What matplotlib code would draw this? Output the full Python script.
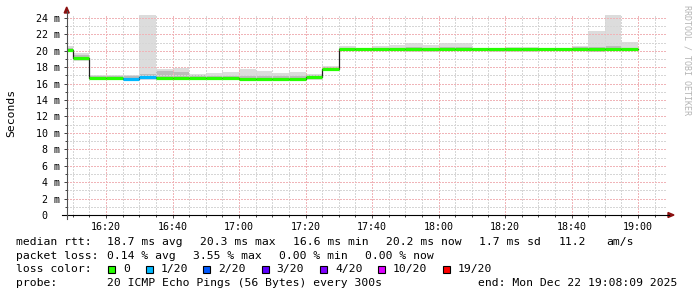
"""
SmokePing-style latency graph: median RTT per 5-minute bin with smoke
(spread of the 20 pings) and loss-coloured median line.
"""

from __future__ import annotations

import matplotlib

matplotlib.use("Agg")
import matplotlib.dates as mdates
import matplotlib.pyplot as plt
import numpy as np
import pandas as pd
from matplotlib.lines import Line2D
from matplotlib.patches import Polygon, Rectangle

# ---- data (ms), one value per 5-minute bin starting 16:05 ----
bin_start = pd.date_range("2025-12-22 16:05", "2025-12-22 18:55", freq="5min")

median_ms = [20.1, 19.1, 16.7, 16.7, 16.6, 16.8, 16.7, 16.7, 16.7, 16.7, 16.7, 16.6,
             16.6, 16.6, 16.6, 16.8, 17.8, 20.2,
             20.2, 20.2, 20.2, 20.2, 20.2, 20.2, 20.2, 20.2, 20.2, 20.2, 20.2, 20.2,
             20.2, 20.2, 20.2, 20.2, 20.2]
loss_count = [0, 0, 0, 0, 1, 1, 0, 0, 0, 0, 0, 0,
              0, 0, 0, 0, 0, 0,
              0, 0, 0, 0, 0, 0, 0, 0, 0, 0, 0, 0,
              0, 0, 0, 0, 0]
smoke_hi = [20.6, 19.7, 17.0, 17.0, 17.0, 26.0, 17.8, 17.9, 17.2, 17.3, 17.45, 17.8,
            17.55, 17.3, 17.4, 17.2, 18.1, 20.6,
            20.4, 20.6, 20.7, 20.9, 20.7, 20.9, 20.9, 20.4, 20.4, 20.5, 20.5, 20.4,
            20.4, 20.6, 22.4, 26.0, 21.1]
smoke_lo = [19.9, 18.8, 16.4, 16.5, 16.4, 16.4, 16.5, 16.5, 16.5, 16.5, 16.5, 16.5,
            16.5, 16.5, 16.4, 16.4, 17.6, 20.0,
            20.0, 20.0, 20.0, 19.9, 19.9, 20.0, 20.0, 20.0, 19.9, 19.9, 19.8, 20.0,
            20.0, 20.0, 19.8, 20.0, 20.0]
inner_hi = [20.4, 19.5, 16.9, 16.9, 16.9, 17.2, 17.5, 17.4, 17.0, 16.9, 16.9, 16.9,
            16.9, 16.9, 16.9, 17.0, 18.0, 20.4,
            20.3, 20.4, 20.4, 20.5, 20.4, 20.5, 20.5, 20.3, 20.3, 20.4, 20.4, 20.3,
            20.3, 20.5, 20.5, 20.6, 20.4]
inner_lo = [20.0, 18.9, 16.5, 16.6, 16.5, 16.6, 16.6, 16.6, 16.6, 16.6, 16.6, 16.5,
            16.5, 16.5, 16.5, 16.6, 17.7, 20.1,
            20.1, 20.1, 20.1, 20.0, 20.0, 20.1, 20.1, 20.1, 20.0, 20.0, 20.0, 20.1,
            20.1, 20.1, 19.9, 20.1, 20.1]

loss_levels = [0, 1, 2, 3, 4, 10, 19]
loss_labels = ["0", "1/20", "2/20", "3/20", "4/20", "10/20", "19/20"]
loss_colors = ["#26ff00", "#00b8ff", "#0059ff", "#5e00ff", "#7e00ff", "#dd00ff", "#ff0000"]

yticks = [0, 2, 4, 6, 8, 10, 12, 14, 16, 18, 20, 22, 24]
ytick_labels = ["0  ", "2 m", "4 m", "6 m", "8 m", "10 m", "12 m", "14 m", "16 m",
                "18 m", "20 m", "22 m", "24 m"]

view_start = pd.Timestamp("2025-12-22 16:08:09")
view_end = pd.Timestamp("2025-12-22 19:08:09")

stats_rows = [
    ("median rtt:", [(107.3, "18.7 ms avg"), (200.0, "20.3 ms max"), (293.3, "16.6 ms min"),
                     (386.0, "20.2 ms now"), (479.3, "1.7 ms sd"), (558.3, "11.2"),
                     (606.7, "am/s")]),
    ("packet loss:", [(107.3, "0.14 % avg"), (193.3, "3.55 % max"), (279.3, "0.00 % min"),
                      (365.0, "0.00 % now")]),
]
legend_box_x = [108.3, 145.7, 203.3, 261.7, 320.0, 377.7, 442.7]
probe_text = "20 ICMP Echo Pings (56 Bytes) every 300s"
end_text = "end: Mon Dec 22 19:08:09 2025"

W, H = 697, 297
MONO = "DejaVu Sans Mono"


def fx(x):
    return x / W


def fy(y):
    return 1 - y / H


fig = plt.figure(figsize=(W / 100, H / 100), dpi=100)
fig.patch.set_facecolor("white")
ax = fig.add_axes([fx(66.7), fy(215), fx(667) - fx(66.7), fy(14.7) - fy(215)])

x = mdates.date2num(bin_start)
width = 5 / 1440
lo = np.array(smoke_lo)
hi = np.array(smoke_hi)
ilo = np.array(inner_lo)
ihi = np.array(inner_hi)

# smoke: outer spread then denser core
ax.bar(x, hi - lo, bottom=lo, width=width, align="edge", color="#dcdcdc", lw=0, zorder=1)
ax.bar(x, ihi - ilo, bottom=ilo, width=width, align="edge", color="#bcbcbc", lw=0, zorder=1.1)

# thin step line joining medians, then coloured median per loss
edges = np.append(x, x[-1] + width)
ax.step(edges, np.append(median_ms, median_ms[-1]), where="post", color="#202020",
        lw=0.9, zorder=3)
seg_colors = [loss_colors[loss_levels.index(n)] for n in loss_count]
ax.hlines(median_ms, x, x + width, colors=seg_colors, lw=2.3, zorder=3.5)

view_span = mdates.date2num(view_end) - mdates.date2num(view_start)
ax.set_xlim(mdates.date2num(view_start),
            mdates.date2num(view_start) + view_span * (667 - 66.7) / (665.2 - 66.7))
ax.set_ylim(0, 24.4)
ax.set_yticks(yticks)
ax.set_yticklabels(ytick_labels, family=MONO, fontsize=7.2)
ax.yaxis.set_minor_locator(matplotlib.ticker.MultipleLocator(1))
ax.xaxis.set_major_locator(mdates.MinuteLocator(byminute=[0, 20, 40]))
ax.xaxis.set_minor_locator(mdates.MinuteLocator(byminute=range(0, 60, 5)))
ax.xaxis.set_major_formatter(mdates.DateFormatter("%H:%M"))
for lab in ax.get_xticklabels():
    lab.set_family(MONO)
    lab.set_fontsize(7.2)

ax.set_axisbelow(False)
dots = (0, (1.4, 1.4))
ax.grid(which="major", color="#f0b4b8", linestyle=dots, lw=0.72, zorder=2,
        antialiased=False)
ax.grid(which="minor", color="#d6d6d6", linestyle=dots, lw=0.72, zorder=2,
        antialiased=False)
ax.tick_params(which="both", direction="out", color="#404040", width=0.7, labelcolor="black")
ax.tick_params(which="major", length=2, pad=3)
ax.tick_params(which="minor", length=1.5)
for s in ax.spines.values():
    s.set_visible(False)

# axes with arrow heads
fig.add_artist(Line2D([fx(62), fx(669)], [fy(215), fy(215)], color="black", lw=0.8))
fig.add_artist(Line2D([fx(66.7), fx(66.7)], [fy(219), fy(11)], color="#505050", lw=0.8))
fig.add_artist(Polygon([[fx(668), fy(212.5)], [fx(674), fy(215)], [fx(668), fy(217.5)]],
                       closed=True, color="#8b1010", transform=fig.transFigure))
fig.add_artist(Polygon([[fx(64.2), fy(13)], [fx(66.7), fy(7)], [fx(69.2), fy(13)]],
                       closed=True, color="#8b1010", transform=fig.transFigure))

fig.text(fx(11), fy(113), "Seconds", rotation=90, ha="center", va="center",
         family=MONO, fontsize=8.2)
fig.text(fx(687.5), fy(5), "RRDTOOL / TOBI OETIKER", rotation=270, ha="center", va="top",
         family=MONO, fontsize=6, color="#b4b4b4")

# legend / statistics block
baselines = [244.7, 258.7, 272.3, 286.5]
txt = dict(family=MONO, fontsize=8.2, va="baseline", ha="left")
for (head, items), base in zip(stats_rows, baselines):
    fig.text(fx(16), fy(base), head, **txt)
    for xpos, s in items:
        fig.text(fx(xpos), fy(base), s, **txt)

fig.text(fx(16), fy(baselines[2]), "loss color:", **txt)
for bx, col, lab in zip(legend_box_x, loss_colors, loss_labels):
    fig.add_artist(Rectangle((fx(bx), fy(272.5)), fx(7), 7 / H, facecolor=col,
                             edgecolor="black", lw=0.8, transform=fig.transFigure))
    fig.text(fx(bx + 15), fy(baselines[2]), lab, **txt)

fig.text(fx(16), fy(baselines[3]), "probe:", **txt)
fig.text(fx(107.3), fy(baselines[3]), probe_text, **txt)
fig.text(fx(478.3), fy(baselines[3]), end_text, **txt)

fig.savefig("out.png", dpi=100)
